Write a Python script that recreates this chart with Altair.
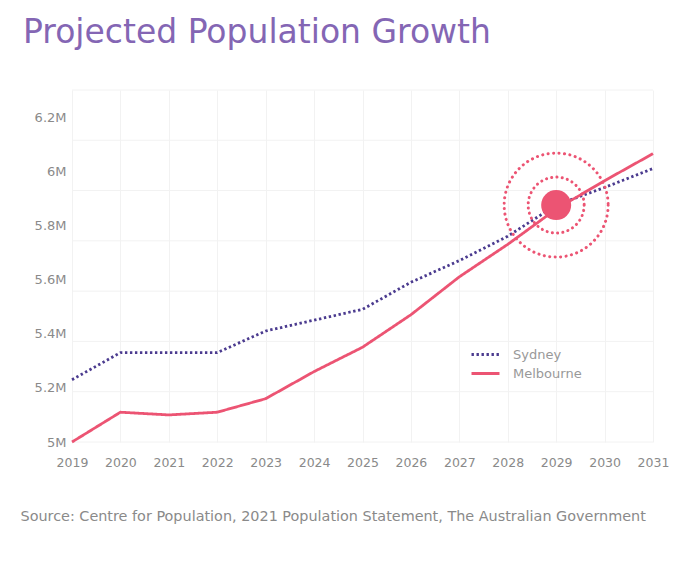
import altair as alt
import pandas as pd

years = list(range(2019, 2032))
sydney = [5.23, 5.33, 5.33, 5.33, 5.41, 5.45, 5.49, 5.59, 5.67, 5.76, 5.875, 5.94, 6.01]
melbourne = [5.00, 5.11, 5.10, 5.11, 5.16, 5.26, 5.35, 5.47, 5.61, 5.73, 5.86, 5.965, 6.065]
cities = ["Sydney", "Melbourne"]
highlight_year = [2029]
highlight_value = [5.875]
y_labels = [5.0, 5.2, 5.4, 5.6, 5.8, 6.0, 6.2]
y_domain = [5.0, 6.3]
grid_steps = 7

purple = "#4b3b8f"
pink = "#ec5473"
gray = "#8a8a8a"
font = "DejaVu Sans"

df = pd.DataFrame({
    "year": years * 2,
    "value": sydney + melbourne,
    "city": [cities[0]] * len(years) + [cities[1]] * len(years),
})
grid_df = pd.DataFrame({
    "value": [y_domain[0] + k * (y_domain[1] - y_domain[0]) / grid_steps for k in range(grid_steps + 1)]
})
hl = pd.DataFrame({"year": highlight_year, "value": highlight_value})

x_axis = alt.Axis(
    values=years, format="d", grid=True, gridColor="#f2f2f2", ticks=False, domain=False,
    labelPadding=14, labelFontSize=12.5, labelColor=gray, labelFont=font,
    labelOverlap=False, labelFlush=False,
    title="Source: Centre for Population, 2021 Population Statement, The Australian Government",
    titleX=-52, titleY=74, titleAnchor="start", titleAlign="left", titleBaseline="middle",
    titleFontSize=14.4, titleFontWeight="normal", titleColor=gray, titleFont=font,
)
x = alt.X("year:Q", scale=alt.Scale(domain=[2019, 2031], nice=False, zero=False), axis=x_axis)

y_axis = alt.Axis(
    values=y_labels, labelExpr="format(datum.value, '.1~f') + 'M'", grid=False, ticks=False,
    domain=False, labelPadding=6, labelFontSize=13, labelColor=gray, labelFont=font, title=None,
)
y = alt.Y("value:Q", scale=alt.Scale(domain=y_domain, nice=False, zero=False), axis=y_axis)

legend = alt.Legend(
    orient="none", legendX=398, legendY=255, title=None, symbolType="stroke",
    symbolSize=784, symbolStrokeWidth=3, labelFontSize=13, labelColor="#999999",
    labelFont=font, labelOffset=12, rowPadding=0, clipHeight=19,
)

grid = alt.Chart(grid_df).mark_rule(color="#f2f2f2", strokeWidth=1).encode(y=y)

lines = alt.Chart(df).mark_line(strokeWidth=2.8).encode(
    x=x,
    y=y,
    color=alt.Color("city:N", scale=alt.Scale(domain=cities, range=[purple, pink]), legend=legend),
    strokeDash=alt.StrokeDash("city:N", scale=alt.Scale(domain=cities, range=[[2.4, 2.6], [1, 0]]), legend=legend),
    order="year:Q",
)

ring_outer = alt.Chart(hl).mark_point(
    shape="circle", filled=False, color=pink, strokeWidth=3, strokeDash=[0.1, 5.4],
    strokeCap="round", size=10816, opacity=1,
).encode(x=x, y=y)
ring_inner = alt.Chart(hl).mark_point(
    shape="circle", filled=False, color=pink, strokeWidth=3, strokeDash=[0.1, 5.2],
    strokeCap="round", size=3136, opacity=1,
).encode(x=x, y=y)
dot = alt.Chart(hl).mark_point(
    shape="circle", filled=True, color=pink, size=900, opacity=1,
).encode(x=x, y=y)

chart = alt.layer(grid, lines, ring_outer, ring_inner, dot).properties(
    width=581,
    height=352,
    autosize=alt.AutoSizeParams(type="none"),
    padding={"left": 72, "top": 90, "right": 39, "bottom": 122},
    background="white",
    title=alt.TitleParams(
        "Projected Population Growth", anchor="start", frame="group", fontSize=33,
        font=font, fontWeight="normal", color="#8466b4", dx=-49, offset=14,
        baseline="alphabetic",
    ),
).configure_view(stroke=None)

chart.save("out.html", embed_options={"renderer": "svg", "actions": False})
